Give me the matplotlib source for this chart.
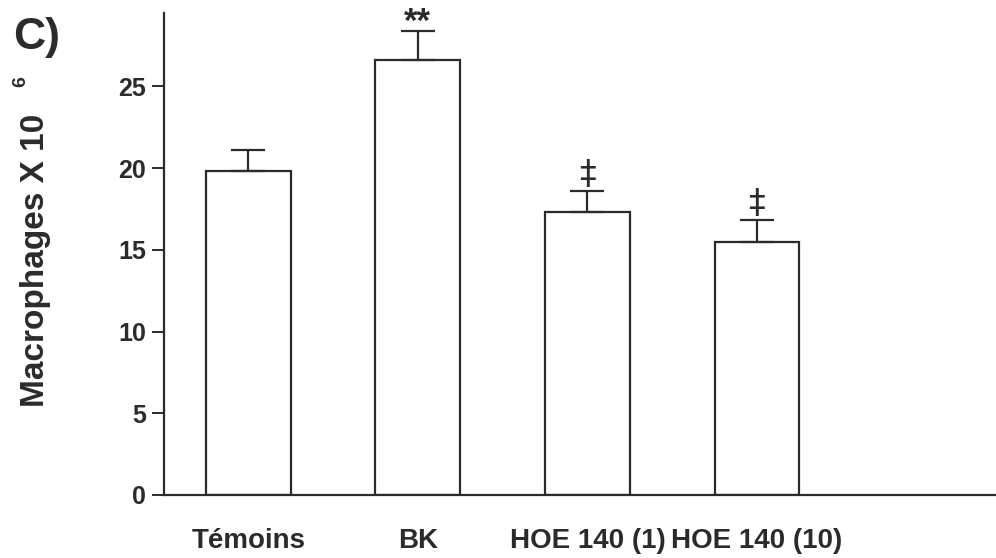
import matplotlib
matplotlib.use("Agg")
import matplotlib.pyplot as plt
import numpy as np

groups = ['Témoins', 'BK', 'HOE 140 (1)', 'HOE 140 (10)']
means = [19.8, 26.6, 17.3, 15.5]
sem = [1.3, 1.8, 1.3, 1.3]
marks = ['', '**', '‡', '‡']

ink = '#2b2b2b'
plt.rcParams['font.family'] = ['Liberation Sans', 'DejaVu Sans']
plt.rcParams['font.weight'] = 'bold'

fig = plt.figure(figsize=(9.96, 5.58), dpi=100)
ax = fig.add_axes([0.165, 0.113, 0.835, 0.864])

x = np.arange(len(groups))
ax.bar(x, means, width=0.5, color='white', edgecolor=ink, linewidth=1.6,
       zorder=2)
ax.errorbar(x, means, yerr=[np.zeros(len(sem)), sem], fmt='none',
            ecolor=ink, elinewidth=1.6, capsize=12, capthick=1.6, zorder=3)

# significance marks above the error caps
for xi, m, e, s in zip(x, means, sem, marks):
    if not s:
        continue
    if s == '**':
        ax.annotate(s, (xi, m + e), xytext=(0, 6), textcoords='offset points',
                    ha='center', va='center', fontsize=25, color=ink,
                    fontweight='bold')
    else:
        ax.annotate(s, (xi, m + e), xytext=(0, 12), textcoords='offset points',
                    ha='center', va='center', fontsize=24, color=ink,
                    family='DejaVu Sans', fontweight='normal')

ax.set_xlim(-0.495, 4.41)
ax.set_ylim(0, 29.5)
ax.set_yticks([0, 5, 10, 15, 20, 25])
ax.set_xticks(x)
ax.set_xticklabels(groups, fontsize=20, fontweight='bold', color=ink)
ax.tick_params(axis='x', length=0, pad=24)
ax.tick_params(axis='y', length=9, width=1.4, color=ink, labelsize=18,
               labelcolor=ink, pad=4)

for side in ['top', 'right']:
    ax.spines[side].set_visible(False)
for side in ['left', 'bottom']:
    ax.spines[side].set_linewidth(1.6)
    ax.spines[side].set_color(ink)

fig.text(0.036, 0.534, 'Macrophages X 10', rotation=90, ha='center',
         va='center', fontsize=24, fontweight='bold', color=ink)
fig.text(0.021, 0.853, '6', rotation=90, ha='center', va='center',
         fontsize=14, fontweight='bold', color=ink)
fig.text(0.013, 0.97, 'C)', ha='left', va='top', fontsize=32,
         fontweight='bold', color=ink)

fig.savefig('out.png', dpi=100)
